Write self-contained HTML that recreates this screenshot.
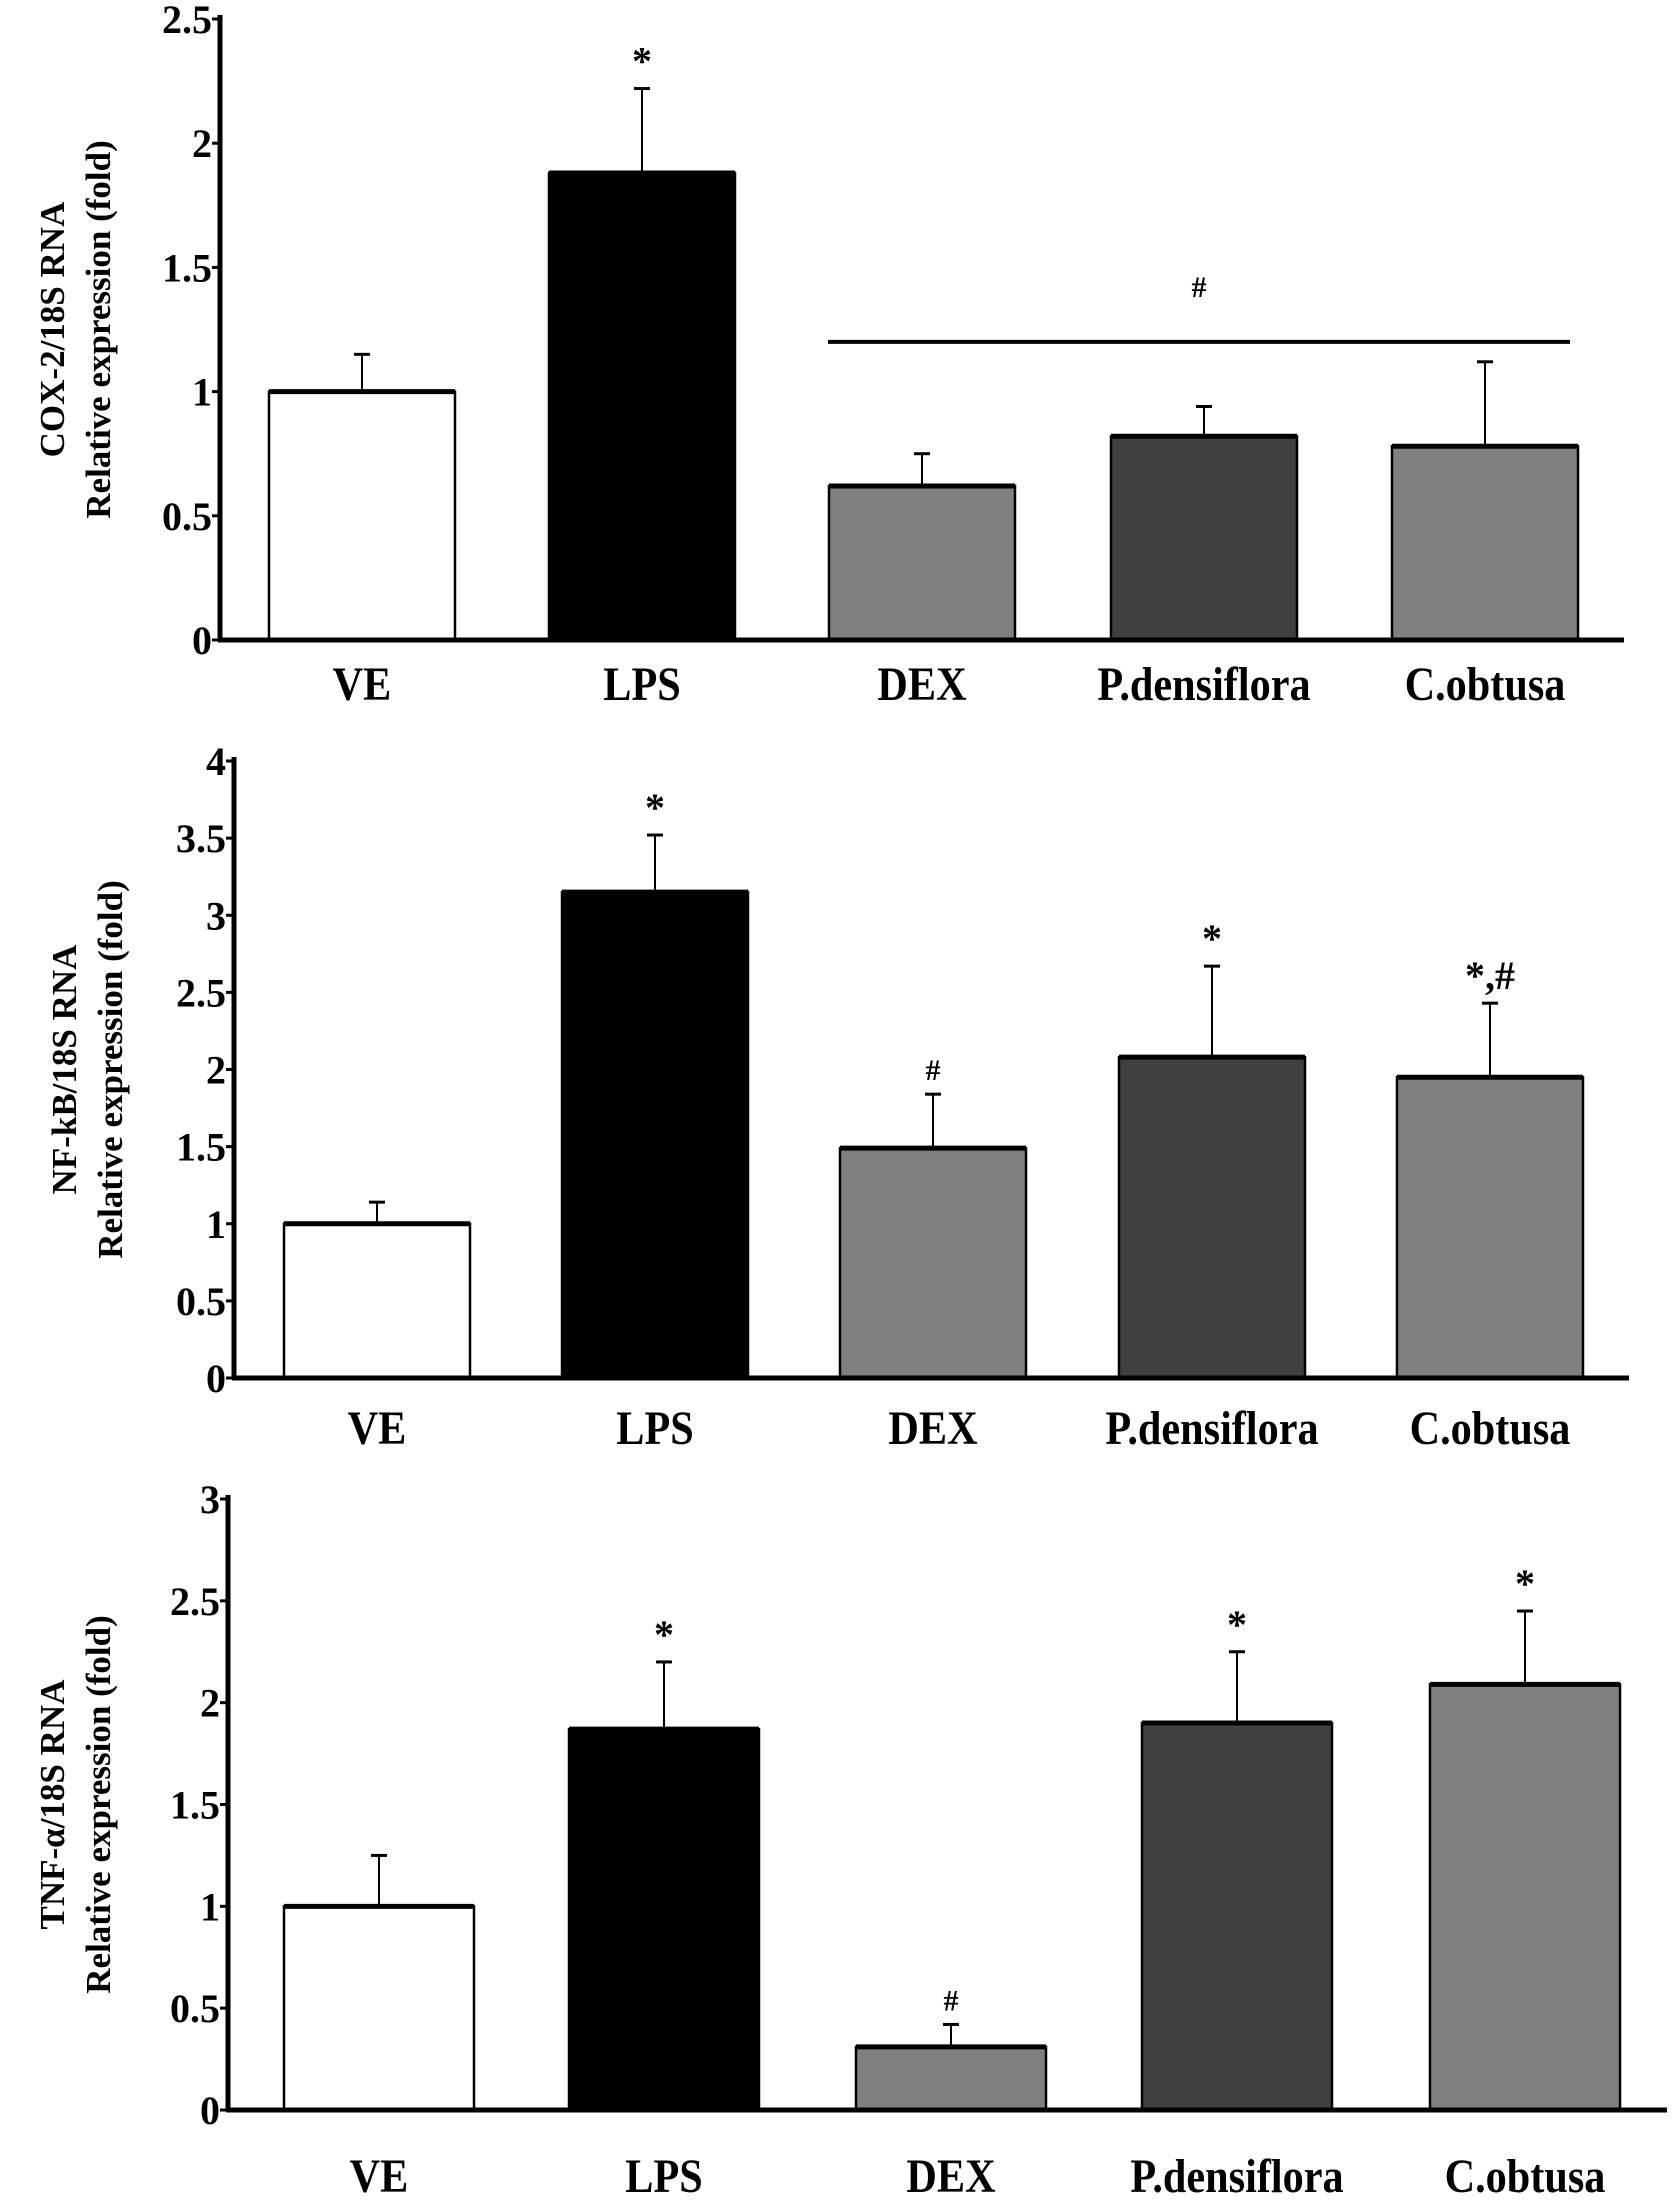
<!DOCTYPE html>
<html><head><meta charset="utf-8"><style>
html,body{margin:0;padding:0;background:#fff}
svg{display:block}
text{font-family:"Liberation Serif",serif;font-weight:bold;fill:#000}
</style></head><body>
<svg id="svg" width="1677" height="2208" viewBox="0 0 1677 2208" xmlns="http://www.w3.org/2000/svg"></svg>
<script>
const categories = ["VE","LPS","DEX","P.densiflora","C.obtusa"];
const fills = ["#ffffff","#000000","#808080","#404040","#808080"];
const cox2Values = [1.0,1.88,0.62,0.82,0.78];
const cox2Errors = [1.15,2.22,0.75,0.94,1.12];
const cox2Ticks = ["0","0.5","1","1.5","2","2.5"];
const nfkbValues = [1.0,3.15,1.49,2.08,1.95];
const nfkbErrors = [1.14,3.52,1.84,2.67,2.43];
const nfkbTicks = ["0","0.5","1","1.5","2","2.5","3","3.5","4"];
const nfkbMarks = ["","*","#","*","*,#"];
const tnfValues = [1.0,1.87,0.31,1.90,2.09];
const tnfErrors = [1.25,2.20,0.42,2.25,2.45];
const tnfTicks = ["0","0.5","1","1.5","2","2.5","3"];
const tnfMarks = ["","*","#","*","*"];
const cox2Marks = ["","*","","",""];

const NS="http://www.w3.org/2000/svg";
const svg=document.getElementById('svg');
function mk(tag,attrs,parent){const e=document.createElementNS(NS,tag);for(const k in attrs)e.setAttribute(k,attrs[k]);(parent||svg).appendChild(e);return e;}

function chart(cfg){
  const g=mk('g',{});
  
  
  const y=v=>cfg.y0-(v/cfg.max)*(cfg.y0-cfg.yTop);
  const ya=mk('line',{x1:cfg.ax,y1:cfg.yTop-4,x2:cfg.ax,y2:cfg.y0,stroke:'#000','stroke-width':5},g);
  
  
  cfg.ticks.forEach((t,i)=>{
    const v=parseFloat(t);const yy=y(v);
    const tk=mk('line',{x1:cfg.ax-8,y1:yy,x2:cfg.ax,y2:yy,stroke:'#000','stroke-width':3},g);
    
    
    const tl=mk('text',{x:cfg.ax-8,y:yy+14,'text-anchor':'end','font-size':40},g);
    tl.textContent=t;
    
    
  });
  categories.forEach((c,i)=>{
    const cx=cfg.centers[i], w=cfg.bw;
    const top=y(cfg.values[i]), et=y(cfg.errors[i]);
    const el=mk('line',{x1:cx,y1:et,x2:cx,y2:top,stroke:'#000','stroke-width':2},g);
    
    
    const ec=mk('line',{x1:cx-8,y1:et,x2:cx+8,y2:et,stroke:'#000','stroke-width':3},g);
    
    
    const r=mk('rect',{x:cx-w/2,y:top,width:w,height:cfg.y0-top,fill:fills[i],stroke:'#000','stroke-width':2.5},g);
    
    
    const cap=mk('line',{x1:cx-w/2,y1:top,x2:cx+w/2,y2:top,stroke:'#000','stroke-width':5},g);
    
    
    const xl=mk('text',{x:0,y:0,'text-anchor':'middle','font-size':48,transform:`translate(${cx},${cfg.labelY}) scale(0.88,1)`},g);
    xl.textContent=c;
    
    
    if(cfg.marks[i]){
      const m=mk('text',{x:cx,y:et-14,'text-anchor':'middle','font-size':cfg.marks[i].includes('#')&&cfg.marks[i].length==1?30:40,'font-weight':'normal'},g);
      m.textContent=cfg.marks[i];
      
      
    }
  });
  const xa=mk('line',{x1:cfg.ax-2,y1:cfg.y0,x2:cfg.axRight,y2:cfg.y0,stroke:'#000','stroke-width':5},g);
  
  
  const midY=(cfg.y0+cfg.yTop)/2;
  const t1=mk('text',{x:0,y:0,'text-anchor':'middle','font-size':35,transform:`translate(${cfg.titleX},${midY}) rotate(-90)`},g);
  t1.textContent=cfg.title;
  
  
  const t2=mk('text',{x:0,y:0,'text-anchor':'middle','font-size':35,transform:`translate(${cfg.titleX+46},${midY}) rotate(-90)`},g);
  t2.textContent="Relative expression (fold)";
  
  
  return {g,y};
}

const c1=chart({name:'cox2-chart',ax:220,axRight:1624,yTop:19,y0:640,max:2.5,ticks:cox2Ticks,values:cox2Values,errors:cox2Errors,marks:cox2Marks,centers:[362,642,922,1204,1485],bw:186,labelY:700,titleX:64,title:"COX-2/18S RNA"});
const br=mk('line',{x1:828,y1:c1.y(1.2),x2:1570,y2:c1.y(1.2),stroke:'#000','stroke-width':4},c1.g);


const hs=mk('text',{x:1199,y:c1.y(1.38),'text-anchor':'middle','font-size':30,'font-weight':'normal'},c1.g);
hs.textContent="#";



chart({name:'nfkb-chart',ax:234,axRight:1629,yTop:761,y0:1378,max:4,ticks:nfkbTicks,values:nfkbValues,errors:nfkbErrors,marks:nfkbMarks,centers:[377,655,933,1212,1490],bw:186,labelY:1444,titleX:76,title:"NF-kB/18S RNA"});

chart({name:'tnf-chart',ax:228,axRight:1667,yTop:1499,y0:2110,max:3,ticks:tnfTicks,values:tnfValues,errors:tnfErrors,marks:tnfMarks,centers:[379,664,951,1237,1525],bw:190,labelY:2192,titleX:64,title:"TNF-α/18S RNA"});
</script>
</body></html>
